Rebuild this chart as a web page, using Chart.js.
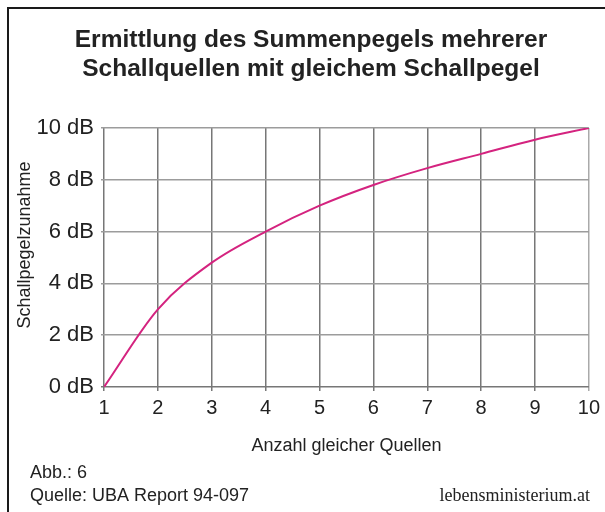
<!DOCTYPE html>
<html>
<head>
<meta charset="utf-8">
<script src="https://cdn.jsdelivr.net/npm/chart.js@4.4.0/dist/chart.umd.min.js"></script>
<style>
  html, body { margin: 0; padding: 0; background: #fff; }
  canvas { display: block; }
</style>
</head>
<body>
<canvas id="chart" width="605" height="512"></canvas>
<script>
// Number of equal sources and the resulting level increase (dB)
const sources = [1, 2, 3, 4, 5, 6, 7, 8, 9, 10];
const levelIncrease = [0, 3.0, 4.8, 6.0, 7.0, 7.8, 8.45, 9.0, 9.55, 10];
const yTickValues = [0, 2, 4, 6, 8, 10];

const titleLines = ['Ermittlung des Summenpegels mehrerer', 'Schallquellen mit gleichem Schallpegel'];
const xTitle = 'Anzahl gleicher Quellen';
const yTitle = 'Schallpegelzunahme';
const figNote = 'Abb.: 6';
const sourceNote = 'Quelle: UBA Report 94-097';
const siteNote = 'lebensministerium.at';

const sans = '"Liberation Sans", Arial, sans-serif';
Chart.defaults.font.family = sans;
Chart.defaults.color = '#222';

// frame, titles and footer texts
const decorations = {
  id: 'decorations',
  beforeDraw(chart) {
    const ctx = chart.ctx;
    ctx.save();
    ctx.fillStyle = '#fff';
    ctx.fillRect(0, 0, chart.width, chart.height);
    // top/left frame
    ctx.strokeStyle = '#1a1a1a';
    ctx.lineWidth = 2;
    ctx.beginPath();
    ctx.moveTo(8, chart.height);
    ctx.lineTo(8, 8);
    ctx.lineTo(chart.width, 8);
    ctx.stroke();
    ctx.restore();
  },
  afterDraw(chart) {
    const ctx = chart.ctx;
    ctx.save();
    ctx.fillStyle = '#222';
    ctx.textAlign = 'center';
    ctx.textBaseline = 'alphabetic';
    ctx.font = 'bold 24.5px ' + sans;
    ctx.fillText(titleLines[0], 311, 47);
    ctx.fillText(titleLines[1], 311, 76);

    // y axis title
    ctx.save();
    ctx.translate(25, 245);
    ctx.rotate(-Math.PI / 2);
    ctx.textBaseline = 'middle';
    ctx.font = '18px ' + sans;
    ctx.fillText(yTitle, 0, 0);
    ctx.restore();

    ctx.textAlign = 'left';
    ctx.font = '18px ' + sans;
    ctx.fillText(figNote, 30, 478);
    ctx.fillText(sourceNote, 30, 501);

    ctx.textAlign = 'right';
    ctx.font = '18px "Liberation Serif", "Times New Roman", serif';
    ctx.fillText(siteNote, 590, 501);
    ctx.restore();
  }
};

new Chart(document.getElementById('chart'), {
  type: 'line',
  data: {
    datasets: [{
      data: sources.map((n, i) => ({ x: n, y: levelIncrease[i] })),
      borderColor: '#d4237f',
      borderWidth: 2,
      pointRadius: 0,
      cubicInterpolationMode: 'monotone',
      fill: false
    }]
  },
  options: {
    responsive: false,
    animation: false,
    layout: { padding: { left: 8, right: 15, top: 128, bottom: 48 } },
    plugins: {
      legend: { display: false },
      tooltip: { enabled: false }
    },
    scales: {
      x: {
        type: 'linear',
        min: 1,
        max: 10,
        ticks: { stepSize: 1, padding: 5, font: { size: 20 }, color: '#222' },
        grid: {
          color: (c) => c.index === 9 ? '#aaaaaa' : '#777777',
          lineWidth: 1.5,
          tickLength: 4
        },
        border: { display: false },
        title: { display: true, text: xTitle, font: { size: 18 }, color: '#222', padding: { top: 0, bottom: 7 } },
        afterFit: (s) => { s.height = 77; }
      },
      y: {
        min: 0,
        max: 10,
        afterBuildTicks: (s) => { s.ticks = yTickValues.map(v => ({ value: v })); },
        ticks: { padding: 7, font: { size: 22 }, color: '#222', callback: (v) => v + ' dB' },
        grid: {
          color: (c) => c.index === 0 ? '#777777' : '#9c9c9c',
          lineWidth: 1.5,
          tickLength: 3
        },
        border: { display: false },
        afterFit: (s) => { s.width = 96; }
      }
    }
  },
  plugins: [decorations]
});
</script>
</body>
</html>
